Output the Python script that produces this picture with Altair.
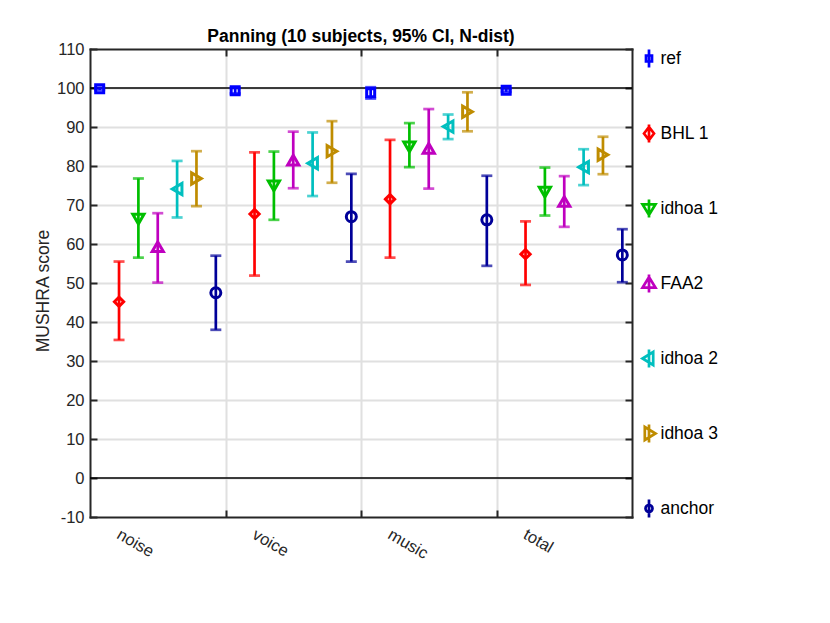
import json
import altair as alt
import pandas as pd

# ---------------- data ----------------
categories = ["noise", "voice", "music", "total"]
series = ["ref", "BHL 1", "idhoa 1", "FAA2", "idhoa 2", "idhoa 3", "anchor"]

mean_ref = [99.8, 99.3, 98.8, 99.4]
lo_ref = [99.5, 98.6, 97.3, 99.0]
hi_ref = [100.1, 100.0, 100.2, 99.8]

mean_bhl1 = [45.2, 67.7, 71.5, 57.4]
lo_bhl1 = [35.4, 51.9, 56.5, 49.5]
hi_bhl1 = [55.5, 83.5, 86.7, 65.8]

mean_idhoa1 = [66.4, 74.9, 84.9, 73.3]
lo_idhoa1 = [56.5, 66.2, 79.7, 67.3]
hi_idhoa1 = [76.8, 83.7, 91.0, 79.6]

mean_faa2 = [59.3, 81.5, 84.5, 70.9]
lo_faa2 = [50.1, 74.3, 74.2, 64.4]
hi_faa2 = [67.9, 88.8, 94.6, 77.4]

mean_idhoa2 = [74.1, 80.7, 90.1, 79.7]
lo_idhoa2 = [66.8, 72.3, 86.9, 75.1]
hi_idhoa2 = [81.3, 88.6, 93.2, 84.3]

mean_idhoa3 = [76.8, 83.8, 93.9, 82.9]
lo_idhoa3 = [69.7, 75.7, 88.9, 77.9]
hi_idhoa3 = [83.8, 91.5, 98.9, 87.5]

mean_anchor = [47.5, 67.0, 66.2, 57.2]
lo_anchor = [38.0, 55.5, 54.4, 50.2]
hi_anchor = [57.0, 78.0, 77.5, 63.8]

y_ticks = list(range(-10, 111, 10))
grid_vals = list(range(0, 101, 10))
ref_lines = [0, 100]
group_bounds = [1.5, 2.5, 3.5]

# ---------------- styles ----------------
colors = ["#0000FF", "#FF0000", "#00BF00", "#BF00BF", "#00BFBF", "#BF8C00", "#000099"]
plot_shapes = ["square", "diamond", "triangle-down", "triangle-up",
               "triangle-left", "triangle-right", "circle"]
plot_sizes = [64, 85, 125, 125, 125, 125, 100]
legend_shapes = [
    "M-0.3,-0.3H0.3V0.3H-0.3Z M0,-0.9V0.9",
    "M-0.5,0L0,-0.65L0.5,0L0,0.65Z M0,-0.9V0.9",
    "M-0.65,-0.42L0.65,-0.42L0,0.65Z M0,-0.9V0.9",
    "M-0.65,0.42L0.65,0.42L0,-0.65Z M0,-0.9V0.9",
    "M0.42,-0.65L0.42,0.65L-0.65,0Z M0,-0.9V0.9",
    "M-0.42,-0.65L-0.42,0.65L0.65,0Z M0,-0.9V0.9",
    "M0.35,0A0.35,0.35 0 1,1 -0.35,0A0.35,0.35 0 1,1 0.35,0Z M0,-0.9V0.9",
]

FONT = "Liberation Sans"
INK = "#262626"
GRID = "#E0E0E0"
W, H = 542, 468
TICK_FS = 16.5

means = [mean_ref, mean_bhl1, mean_idhoa1, mean_faa2, mean_idhoa2, mean_idhoa3, mean_anchor]
los = [lo_ref, lo_bhl1, lo_idhoa1, lo_faa2, lo_idhoa2, lo_idhoa3, lo_anchor]
his = [hi_ref, hi_bhl1, hi_idhoa1, hi_faa2, hi_idhoa2, hi_idhoa3, hi_anchor]

rows = []
for si, s in enumerate(series):
    for ci, c in enumerate(categories):
        rows.append({
            "series": s,
            "category": c,
            "x": ci + 1 + (si - 3) / 7.0,
            "mean": means[si][ci],
            "lo": los[si][ci],
            "hi": his[si][ci],
        })
df = pd.DataFrame(rows)

xs = alt.Scale(domain=[0.5, 4.5], nice=False, zero=False)
ys = alt.Scale(domain=[-10, 110], nice=False, zero=False)
cscale = alt.Scale(domain=series, range=colors)

label_expr = json.dumps(categories) + "[round(datum.value) - 1]"

edge = dict(domain=True, domainColor=INK, domainWidth=2, domainCap="square",
            ticks=True, tickSize=7, tickWidth=2, tickColor=INK,
            labels=False, grid=False, title=None)

# layer 1: horizontal grid + black reference lines at 0 and 100
hl = alt.Chart(pd.DataFrame({"y": ref_lines})).mark_rule(
    color="black", strokeWidth=1.5
).encode(
    y=alt.Y("y:Q", scale=ys, axis=alt.Axis(
        orient="left", values=grid_vals, grid=True, gridColor=GRID, gridWidth=2,
        labels=False, ticks=False, domain=False, title=None)),
)

# layer 2: error bar stems, with labelled axes
rules = alt.Chart(df).mark_rule(strokeWidth=2.7).encode(
    x=alt.X("x:Q", scale=xs, axis=alt.Axis(
        orient="bottom", values=[1, 2, 3, 4], labelExpr=label_expr,
        labelAngle=30, labelAlign="left", labelBaseline="top",
        labelOffset=-36, labelPadding=9, tickSize=0, ticks=False,
        domain=False, grid=False, title=None, labelFontSize=TICK_FS,
        labelColor=INK, labelFont=FONT, labelFlush=False, labelOverlap=False)),
    y=alt.Y("lo:Q", scale=ys, axis=alt.Axis(
        orient="left", values=y_ticks, labelExpr="'' + datum.value",
        grid=False, ticks=False, tickSize=0,
        domain=False, labelPadding=6, labelFontSize=TICK_FS, labelColor=INK,
        labelFont=FONT, title="MUSHRA score", titleFont=FONT, titleFontSize=17.5,
        titleFontWeight="normal", titleColor=INK, titleAngle=-90,
        titleBaseline="middle", titleX=-47, titleY=241.5)),
    y2="hi:Q",
    color=alt.Color("series:N", scale=cscale, legend=None),
)

# layer 3: caps; vertical grid + inward ticks/frame at bottom and left edges
caps = alt.Chart(df).transform_fold(["lo", "hi"], as_=["end", "yv"]).mark_tick(
    orient="horizontal", size=11, thickness=2.7
).encode(
    x=alt.X("x:Q", scale=xs, axis=alt.Axis(
        orient="top", offset=-H, values=group_bounds, **{**edge, "grid": True},
        gridColor=GRID, gridWidth=2)),
    y=alt.Y("yv:Q", scale=ys, axis=alt.Axis(
        orient="right", offset=-W, values=y_ticks, **edge)),
    color=alt.Color("series:N", scale=cscale, legend=None),
)

# layer 4: markers; inward ticks/frame at top and right edges
points = alt.Chart(df).mark_point(filled=False, strokeWidth=3, opacity=1).encode(
    x=alt.X("x:Q", scale=xs, axis=alt.Axis(
        orient="bottom", offset=-H, values=group_bounds, **edge)),
    y=alt.Y("mean:Q", scale=ys, axis=alt.Axis(
        orient="left", offset=-W, values=y_ticks, **edge)),
    color=alt.Color("series:N", scale=cscale, legend=None),
    shape=alt.Shape("series:N", scale=alt.Scale(domain=series, range=plot_shapes), legend=None),
    size=alt.Size("series:N", scale=alt.Scale(type="ordinal", domain=series, range=plot_sizes), legend=None),
)

leg = alt.Legend(
    orient="none", legendX=547.5, legendY=-2, title=None, direction="vertical",
    labelFont=FONT, labelFontSize=17.5, labelColor="black", symbolSize=400,
    symbolStrokeWidth=2.7, rowPadding=46, padding=0, labelOffset=0,
    symbolOpacity=1, labelLimit=200,
)

# layer 5: legend carrier (no marks drawn)
carrier = alt.Chart(df).transform_filter("false").mark_point(
    filled=False, strokeWidth=2.7
).encode(
    x=alt.X("x:Q", scale=xs, axis=None),
    y=alt.Y("mean:Q", scale=ys, axis=None),
    color=alt.Color("series:N", scale=cscale, legend=leg),
    shape=alt.Shape("series:N", scale=alt.Scale(domain=series, range=legend_shapes), legend=leg),
)

chart = alt.layer(hl, rules, caps, points, carrier).resolve_scale(
    color="independent", shape="independent", size="independent"
).resolve_axis(
    x="independent", y="independent"
).properties(
    width=W, height=H,
    padding={"left": 82, "top": 41, "right": 190, "bottom": 98},
    autosize=alt.AutoSizeParams(type="none"),
    title=alt.Title(
        "Panning (10 subjects, 95% CI, N-dist)", font=FONT, fontSize=17.5,
        fontWeight="bold", color="black", anchor="middle", frame="group", offset=-4,
    ),
).configure_view(
    strokeWidth=0
).configure_axis(
    labelFont=FONT, labelFontSize=TICK_FS
).configure(background="white")

chart.save("out.html", embed_options={"renderer": "svg", "actions": False})
